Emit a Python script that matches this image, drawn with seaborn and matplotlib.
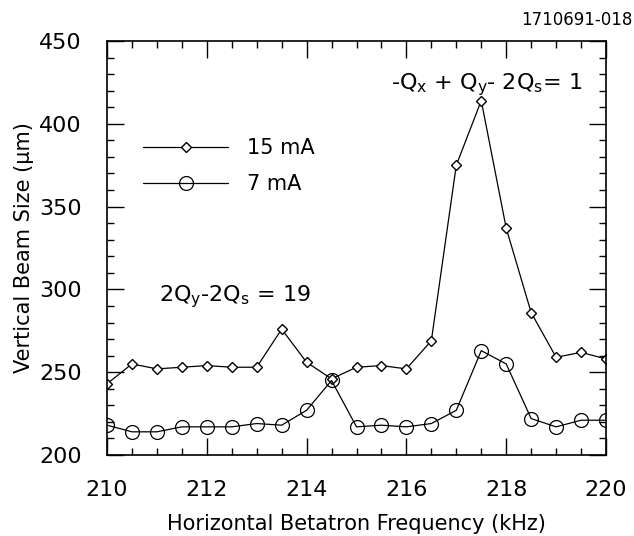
import matplotlib
matplotlib.use("Agg")
import matplotlib.pyplot as plt
from matplotlib.ticker import MultipleLocator
import seaborn as sns
import pandas as pd

freq = [210.0, 210.5, 211.0, 211.5, 212.0, 212.5, 213.0, 213.5, 214.0, 214.5, 215.0,
        215.5, 216.0, 216.5, 217.0, 217.5, 218.0, 218.5, 219.0, 219.5, 220.0]
size_15mA = [243, 255, 252, 253, 254, 253, 253, 276, 256, 246, 253,
             254, 252, 269, 375, 414, 337, 286, 259, 262, 258]
size_7mA = [218, 214, 214, 217, 217, 217, 219, 218, 227, 245, 217,
            218, 217, 219, 227, 263, 255, 222, 217, 221, 221]

sns.set_theme(style="ticks")
plt.rcParams["font.family"] = ["DejaVu Sans"]
plt.rcParams["mathtext.default"] = "regular"
plt.rcParams["text.color"] = "black"
plt.rcParams["axes.labelcolor"] = "black"

fig = plt.figure(figsize=(6.34, 5.36), dpi=100)
ax = fig.add_axes([107/634, 1-455/536, (606-107)/634, (455-41)/536])

sns.lineplot(x=freq, y=size_15mA, ax=ax, color="black", linewidth=0.9,
             marker="D", markersize=5.5, markerfacecolor="white",
             markeredgecolor="black", markeredgewidth=1.0, label="15 mA")
sns.lineplot(x=freq, y=size_7mA, ax=ax, color="black", linewidth=0.9,
             marker="o", markersize=10, markerfacecolor="none",
             markeredgecolor="black", markeredgewidth=0.9, label="7 mA")

ax.set_xlim(210, 220)
ax.set_ylim(200, 450)
ax.xaxis.set_major_locator(MultipleLocator(2))
ax.xaxis.set_minor_locator(MultipleLocator(0.5))
ax.yaxis.set_major_locator(MultipleLocator(50))
ax.yaxis.set_minor_locator(MultipleLocator(10))
ax.tick_params(which="both", direction="in", top=True, right=True,
               colors="black", labelcolor="black", labelsize=16, width=1.0)
ax.tick_params(which="major", length=12, pad=18)
ax.tick_params(which="minor", length=5)
for s in ax.spines.values():
    s.set_linewidth(1.2)
    s.set_color("black")

ax.set_xlabel("Horizontal Betatron Frequency (kHz)", fontsize=15, labelpad=10)
ax.set_ylabel("Vertical Beam Size (μm)", fontsize=15, labelpad=4)

ax.text(215.7, 421, r"-Q$_{x}$ + Q$_{y}$- 2Q$_{s}$= 1", fontsize=16,
        ha="left", va="baseline")
ax.text(211.05, 293, r"2Q$_{y}$-2Q$_{s}$ = 19", fontsize=16,
        ha="left", va="baseline")

leg = ax.legend(loc="upper left", bbox_to_anchor=(0.072, 0.765), frameon=False,
                fontsize=15, handlelength=4.1, handletextpad=0.9,
                borderpad=0, borderaxespad=0, labelspacing=0.75, numpoints=1)
for t in leg.get_texts():
    t.set_color("black")

fig.text(0.997, 1-20/536, "1710691-018", ha="right", va="center", fontsize=12,
         color="black")

fig.savefig("out.png", dpi=100)
